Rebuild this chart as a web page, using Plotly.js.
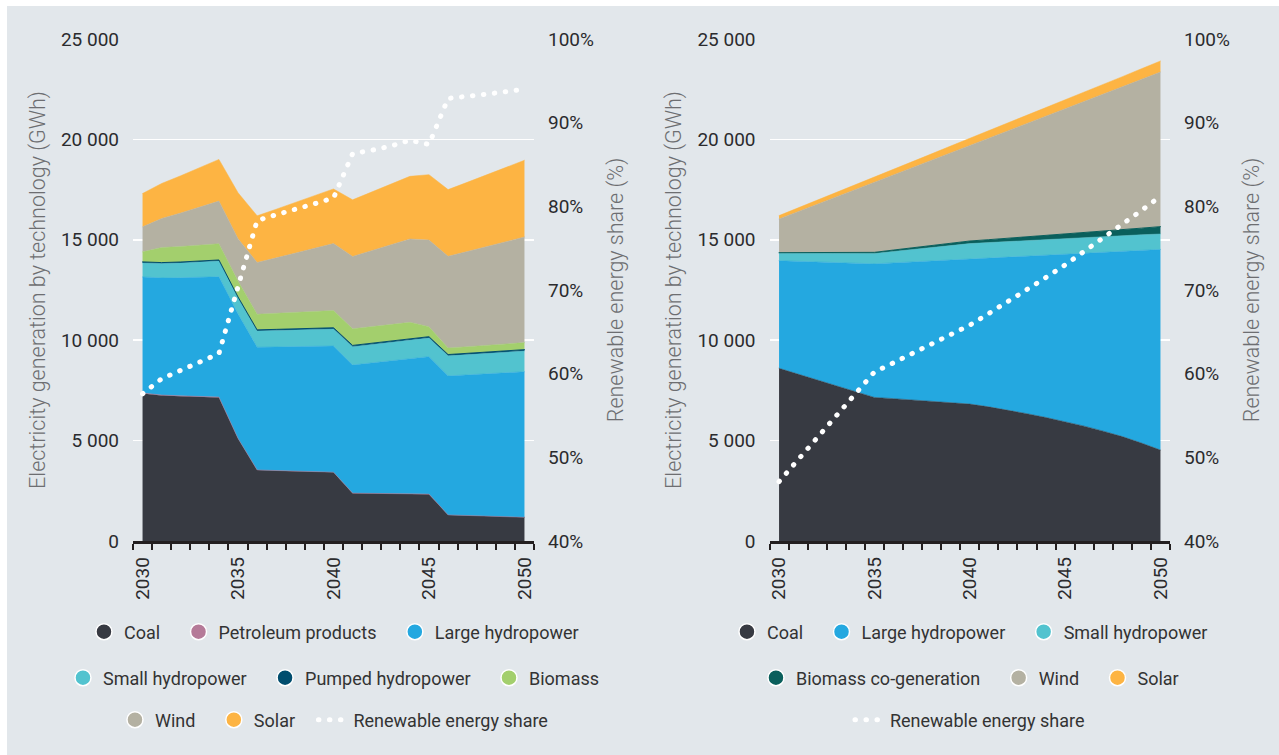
<!DOCTYPE html>
<html><head><meta charset="utf-8">
<script src="https://cdn.plot.ly/plotly-3.0.1.min.js"></script>
<style>
html,body{margin:0;padding:0;background:#ffffff;}
#chart{position:absolute;left:7px;top:6px;width:1272px;height:749px;}
.js-line{stroke-linecap:round;}
</style></head><body><div id="chart"></div>
<script>
// ---------- data ----------
const years = [2030,2031,2032,2033,2034,2035,2036,2037,2038,2039,2040,2041,2042,2043,2044,2045,2046,2047,2048,2049,2050];
const tickYears = [2030,2035,2040,2045,2050];

// Left scenario (GWh)
const coalL      = [7350,7250,7210,7180,7150,5100,3530,3500,3480,3450,3420,2380,2370,2360,2340,2330,1300,1270,1240,1210,1180];
const petroleumL = [20,20,20,20,20,10,10,10,10,10,10,5,5,5,5,5,0,0,0,0,0];
const largeHydroL= [5780,5830,5880,5930,5990,6190,6110,6155,6190,6235,6280,6380,6485,6590,6705,6845,6920,7000,7080,7165,7250];
const smallHydroL= [700,715,735,755,780,800,810,820,830,840,850,915,920,925,930,930,1000,1005,1010,1020,1030];
const pumpedL    = [50,50,50,50,55,55,55,55,60,60,60,60,60,60,65,65,65,65,65,70,70];
const biomassL   = [500,750,770,790,810,790,780,800,820,840,860,830,835,840,845,500,330,335,340,345,350];
const windL      = [1245,1445,1670,1900,2125,2110,2575,2760,2950,3140,3335,3600,3780,3960,4150,4315,4565,4740,4910,5090,5260];
const solarL     = [1660,1745,1855,1965,2075,2290,2325,2425,2525,2620,2720,2820,2920,3020,3120,3255,3320,3445,3570,3690,3820];
const shareL     = [57.6,59.4,60.4,61.4,62.4,70.4,78.3,79.0,79.6,80.3,81.0,86.3,86.7,87.2,87.9,87.4,92.9,93.1,93.4,93.7,94.0];

// Right scenario (GWh)
const coalR      = [8600,8310,8020,7730,7440,7150,7090,7020,6960,6900,6820,6680,6520,6340,6150,5940,5720,5470,5200,4880,4530];
const largeHydroR= [5360,5620,5880,6140,6390,6650,6760,6880,6990,7100,7230,7420,7630,7860,8100,8360,8625,8920,9235,9600,9990];
const smallHydroR= [370,400,430,460,490,520,570,620,670,715,760,762,764,766,768,770,770,770,770,770,770];
const biomassR   = [30,35,40,45,50,55,70,85,100,115,130,145,160,175,190,205,235,265,295,330,365];
const windR      = [1680,2040,2400,2770,3150,3510,3760,4010,4260,4520,4770,5070,5370,5660,5960,6260,6550,6840,7120,7410,7700];
const solarR     = [165,180,195,210,225,240,260,280,300,320,340,360,380,400,420,440,462,484,506,528,550];
const shareR     = [47.1,49.7,52.3,55.0,57.6,60.2,61.3,62.4,63.5,64.6,65.8,67.2,68.6,70.0,71.5,73.0,74.6,76.2,77.8,79.5,81.2];

// ---------- styles ----------
const C = {
  coal:'#373a42', petroleum:'#b57a98', large:'#24a8e0', small:'#52c3cf',
  pumped:'#004d6e', biomass:'#a3cf6d', wind:'#b4b1a2', solar:'#fdb443',
  cogen:'#0a5f5c'
};
const BG = '#e2e7eb';
const FONT = 'Roboto, Lato, sans-serif';
const GAP = '\u00a0\u00a0\u00a0';

function area(y, color, xa, ya, grp, lw){
  return {type:'scatter', x:years, y:y, xaxis:xa, yaxis:ya, stackgroup:grp, mode:'lines',
    line:{width:lw||0.5, color:color}, fillcolor:color, showlegend:false, hoverinfo:'skip'};
}
function key(name, color, lg, last){
  return {type:'scatter', x:[null], y:[null], mode:'markers', name:name + (last ? '' : GAP), legend:lg,
    marker:{symbol:'circle', size:16, color:color, line:{color:'#ffffff', width:1.5}},
    hoverinfo:'skip', showlegend:true};
}
function shareTrace(y, xa, ya, lg){
  return {type:'scatter', x:years, y:y, xaxis:xa, yaxis:ya, mode:'lines', name:'Renewable energy share',
    legend:lg, legendrank:2000, line:{color:'#ffffff', width:5, dash:'0.5px,10.5px'}, hoverinfo:'skip', showlegend:true};
}

const traces = [
  area(coalL, C.coal, 'x','y','L'),
  area(petroleumL, C.petroleum, 'x','y','L'),
  area(largeHydroL, C.large, 'x','y','L'),
  area(smallHydroL, C.small, 'x','y','L'),
  area(pumpedL, C.pumped, 'x','y','L', 1),
  area(biomassL, C.biomass, 'x','y','L'),
  area(windL, C.wind, 'x','y','L'),
  area(solarL, C.solar, 'x','y','L'),
  shareTrace(shareL, 'x','y2','legend3'),

  area(coalR, C.coal, 'x2','y3','R'),
  area(largeHydroR, C.large, 'x2','y3','R'),
  area(smallHydroR, C.small, 'x2','y3','R'),
  area(biomassR, C.cogen, 'x2','y3','R', 1),
  area(windR, C.wind, 'x2','y3','R'),
  area(solarR, C.solar, 'x2','y3','R'),
  shareTrace(shareR, 'x2','y4','legend6'),

  key('Coal', C.coal, 'legend'),
  key('Petroleum products', C.petroleum, 'legend'),
  key('Large hydropower', C.large, 'legend', true),
  key('Small hydropower', C.small, 'legend2'),
  key('Pumped hydropower', C.pumped, 'legend2'),
  key('Biomass', C.biomass, 'legend2', true),
  key('Wind', C.wind, 'legend3'),
  key('Solar', C.solar, 'legend3'),

  key('Coal', C.coal, 'legend4'),
  key('Large hydropower', C.large, 'legend4'),
  key('Small hydropower', C.small, 'legend4', true),
  key('Biomass co-generation', C.cogen, 'legend5'),
  key('Wind', C.wind, 'legend5'),
  key('Solar', C.solar, 'legend5', true)
];

const tickFont = {size:19, color:'#2b2b2e', family:FONT};
const titleFont = {size:21.5, color:'#6d6e71', family:FONT, weight:300};

function xAxis(domain, anchor){
  return {domain:domain, anchor:anchor, range:[years[0]-0.5, years[years.length-1]+0.5],
    tickmode:'array', tickvals:tickYears, tickangle:-90, ticks:'outside', ticklen:6,
    tickcolor:'rgba(0,0,0,0)', tickfont:tickFont, showline:true, linecolor:'#231f20', linewidth:2.5,
    showgrid:false, zeroline:false, fixedrange:true,
    minor:{ticks:'outside', tickmode:'linear', tick0:years[0]-0.5, dtick:1, ticklen:6, tickwidth:2,
      tickcolor:'#231f20', showgrid:false}};
}
function yLeft(anchor){
  return {anchor:anchor, range:[0,25000], tickmode:'linear', tick0:0, dtick:5000, tickformat:',d',
    gridcolor:'#ffffff', gridwidth:1.5, zeroline:false, showline:false, ticks:'',
    ticklabelstandoff:13, tickfont:tickFont, fixedrange:true,
    title:{text:'Electricity generation by technology (GWh)', font:titleFont, standoff:9}};
}
function yRight(anchor, over){
  return {anchor:anchor, overlaying:over, side:'right', range:[40,100], tickmode:'linear', tick0:40, dtick:10,
    ticksuffix:'%', showgrid:false, zeroline:false, showline:false, ticks:'', ticklabelstandoff:13,
    tickfont:tickFont, fixedrange:true,
    title:{text:'Renewable energy share (%)', font:titleFont, standoff:14}};
}
function lg(x, y){
  return {orientation:'h', x:x, xanchor:'center', y:y, yanchor:'middle', bgcolor:'rgba(0,0,0,0)',
    font:{size:18, color:'#333333', family:FONT}, itemwidth:30, tracegroupgap:0, traceorder:'normal'};
}

const layout = {
  width:1272, height:749,
  paper_bgcolor:BG, plot_bgcolor:BG,
  margin:{l:126, r:109, t:33, b:214, pad:0},
  font:{family:FONT, color:'#231f20'},
  separators:'. ',
  hovermode:false,
  showlegend:true,
  xaxis: xAxis([0,0.3867],'y'),
  yaxis: yLeft('x'),
  yaxis2: yRight('x','y'),
  xaxis2: xAxis([0.6138,1],'y3'),
  yaxis3: yLeft('x2'),
  yaxis4: yRight('x2','y3'),
  legend: lg(0.1938,-0.1813),
  legend2: lg(0.1938,-0.2729),
  legend3: lg(0.1938,-0.3566),
  legend4: lg(0.8071,-0.1813),
  legend5: lg(0.8071,-0.2729),
  legend6: lg(0.8071,-0.3566)
};

Plotly.newPlot('chart', traces, layout, {displayModeBar:false, staticPlot:true});
</script></body></html>
